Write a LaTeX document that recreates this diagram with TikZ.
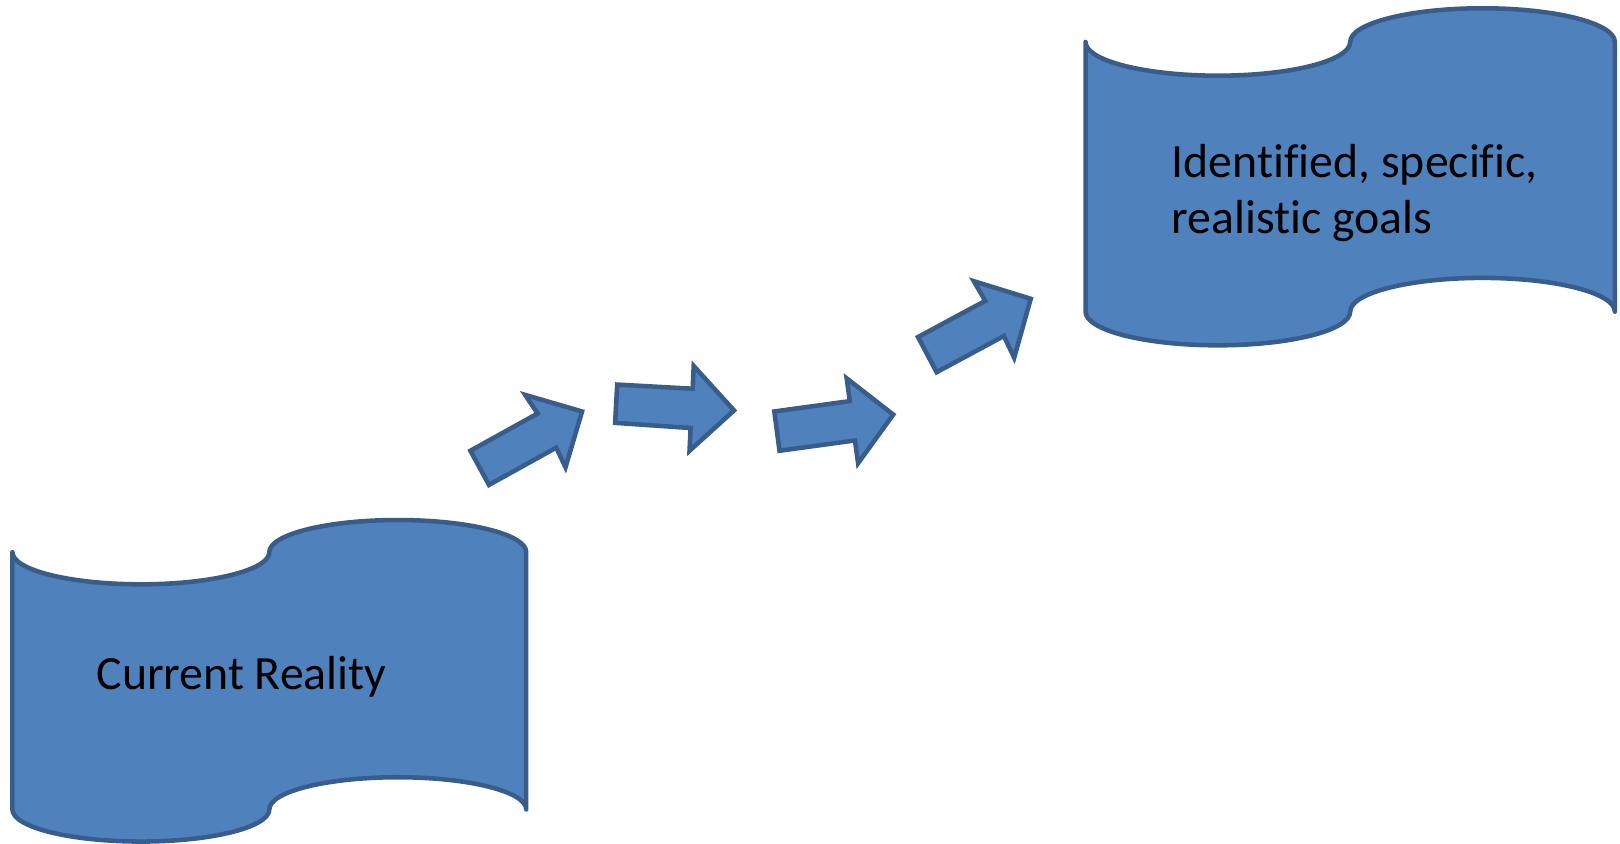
\documentclass[tikz,border=0pt]{standalone}
\usepackage{fontspec}
\setmainfont[Ligatures=NoCommon]{Carlito}
\definecolor{tapefill}{HTML}{4F81BD}
\definecolor{tapeline}{HTML}{385D8A}
\tikzset{
  tape/.style={fill=tapefill, draw=tapeline, line width=2.2pt, line join=round},
  blockarrow/.style={fill=tapefill, draw=tapeline, line width=2.2pt, line join=miter},
  txt/.style={inner sep=0pt, anchor=base west, text=black, font=\fontsize{23.1}{27.5}\selectfont}
}
\newcommand\tapeshape[4]{%
  \pgfmathsetmacro\ta{(#3-#1)/4}%
  \pgfmathsetmacro\tb{(#4-#2)/10}%
  \draw[tape] (#1,#2+\tb)
    arc[start angle=180,end angle=0,x radius=\ta,y radius=\tb]
    arc[start angle=180,end angle=360,x radius=\ta,y radius=\tb]
    -- (#3,#4-\tb)
    arc[start angle=0,end angle=-180,x radius=\ta,y radius=\tb]
    arc[start angle=0,end angle=180,x radius=\ta,y radius=\tb]
    -- cycle;
}
\begin{document}
\begin{tikzpicture}[x=0.5pt,y=-0.5pt]
\useasboundingbox (0,0) rectangle (1567,816);
% shapes
\tapeshape{12}{503}{509}{814}
\tapeshape{1050}{8}{1562}{334}
% texts
\node[txt] (cr) at (93,667) {Current Reality};
\node[txt] (g1) at (1133,172) {Identified, specific,};
\node[txt] (g2) at (1133,226) {realistic goals};
% arrows
\draw[blockarrow] (455,436) -- (520,400) -- (508,382) -- (563,398) -- (547,452) -- (538,433) -- (473,469) -- cycle;
\draw[blockarrow] (597,372) -- (670,376) -- (671,354) -- (710,397) -- (667,436) -- (668,414) -- (595,409) -- cycle;
\draw[blockarrow] (749,398) -- (822,388) -- (819,366) -- (864,401) -- (830,448) -- (827,426) -- (754,436) -- cycle;
\draw[blockarrow] (888,326) -- (953,291) -- (942,272) -- (997,289) -- (981,346) -- (971,325) -- (906,360) -- cycle;
\end{tikzpicture}
\end{document}
